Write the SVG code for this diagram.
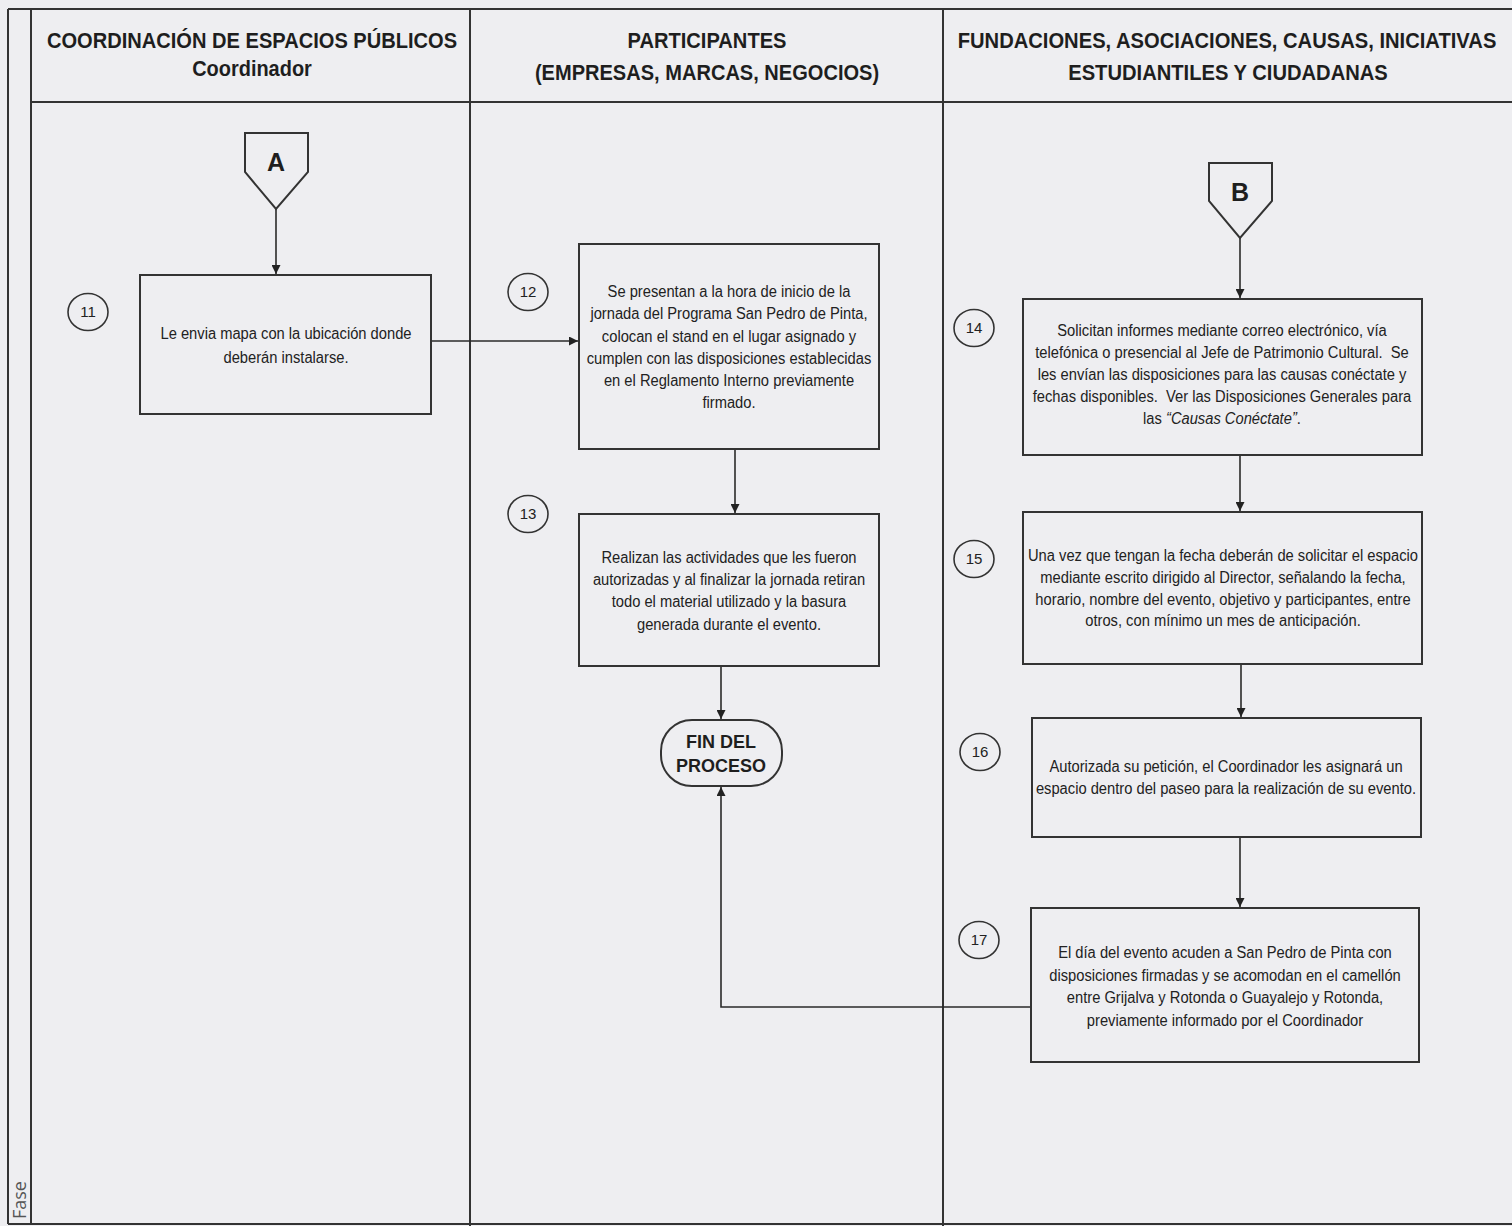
<svg xmlns="http://www.w3.org/2000/svg" width="1512" height="1226" viewBox="0 0 1512 1226">
<style>
.frame{stroke:#333;stroke-width:2;fill:none}
.box{fill:none;stroke:#333;stroke-width:2}
.conn{fill:none;stroke:#2a2a2a;stroke-width:1.6}
.hd{font-family:"Liberation Sans",Arial,sans-serif;font-weight:bold;font-size:22px;fill:#1e1e1e;text-anchor:middle}
.tx{font-family:"Liberation Sans",Arial,sans-serif;font-size:16px;fill:#222;text-anchor:middle}
.num{font-family:"Liberation Sans",Arial,sans-serif;font-size:15px;fill:#222;text-anchor:middle}
.big{font-family:"Liberation Sans",Arial,sans-serif;font-weight:bold;fill:#1e1e1e;text-anchor:middle}
.circ{fill:none;stroke:#333;stroke-width:1.6}
</style>
<defs>
<marker id="ah" viewBox="0 0 10 10" refX="10" refY="5" markerWidth="9" markerHeight="9" markerUnits="userSpaceOnUse" orient="auto">
<path d="M0,0 L10,5 L0,10 z" fill="#222"/>
</marker>
</defs>
<rect x="0" y="0" width="1512" height="1226" fill="#eeeef1"/>
<g id="frame">
<line class="frame" x1="8" y1="9" x2="1512" y2="9"/>
<line class="frame" x1="8" y1="9" x2="8" y2="1224"/>
<line class="frame" x1="31" y1="9" x2="31" y2="1224"/>
<line class="frame" x1="31" y1="102" x2="1512" y2="102"/>
<line class="frame" x1="470" y1="9" x2="470" y2="1226"/>
<line class="frame" x1="943" y1="9" x2="943" y2="1226"/>
<line class="frame" x1="8" y1="1224" x2="1512" y2="1224"/>
<text x="0" y="0" transform="translate(26,1219) rotate(-90)" font-family="'Open Sans',sans-serif" font-size="18" fill="#555">Fase</text>
</g>
<g id="headers">
<text class="hd" transform="translate(252,48) scale(0.86,1)" x="0" y="0" textLength="477" lengthAdjust="spacingAndGlyphs">COORDINACIÓN DE ESPACIOS PÚBLICOS</text>
<text class="hd" transform="translate(252,76) scale(0.9,1)" x="0" y="0" textLength="133" lengthAdjust="spacingAndGlyphs">Coordinador</text>
<text class="hd" transform="translate(707,48) scale(0.85,1)" x="0" y="0" textLength="187" lengthAdjust="spacingAndGlyphs">PARTICIPANTES</text>
<text class="hd" transform="translate(707,80) scale(0.85,1)" x="0" y="0" textLength="405" lengthAdjust="spacingAndGlyphs">(EMPRESAS, MARCAS, NEGOCIOS)</text>
<text class="hd" transform="translate(1227,48) scale(0.83,1)" x="0" y="0" textLength="649" lengthAdjust="spacingAndGlyphs">FUNDACIONES, ASOCIACIONES, CAUSAS, INICIATIVAS</text>
<text class="hd" transform="translate(1228,80) scale(0.85,1)" x="0" y="0" textLength="376" lengthAdjust="spacingAndGlyphs">ESTUDIANTILES Y CIUDADANAS</text>
</g>
<g id="connectors">
<path class="conn" d="M276,209 V274" marker-end="url(#ah)"/>
<path class="conn" d="M431,341 H578" marker-end="url(#ah)"/>
<path class="conn" d="M735,449 V513" marker-end="url(#ah)"/>
<path class="conn" d="M721,666 V719" marker-end="url(#ah)"/>
<path class="conn" d="M1031,1007 H721 V787" marker-end="url(#ah)"/>
<path class="conn" d="M1240,238 V298" marker-end="url(#ah)"/>
<path class="conn" d="M1240,455 V511" marker-end="url(#ah)"/>
<path class="conn" d="M1241,664 V717" marker-end="url(#ah)"/>
<path class="conn" d="M1240,837 V907" marker-end="url(#ah)"/>
</g>
<g id="conA">
<path class="box" d="M245,133 H308 V172 L276,209 L245,172 Z"/>
<text class="big" x="276" y="171" font-size="25">A</text>
</g>
<g id="conB">
<path class="box" d="M1209,163 H1272 V201 L1240,238 L1209,201 Z"/>
<text class="big" x="1240" y="201" font-size="25">B</text>
</g>
<g id="n11">
<ellipse class="circ" cx="88" cy="312" rx="20" ry="18.5"/>
<text class="num" x="88" y="317">11</text>
<rect class="box" x="140" y="275" width="291" height="139"/>
<g transform="matrix(0.92,0,0,1,22.88,0)">
<text class="tx" x="286" y="339">Le envia mapa con la ubicación donde</text>
<text class="tx" x="286" y="363">deberán instalarse.</text>
</g>
</g>
<g id="n12">
<ellipse class="circ" cx="528" cy="292" rx="20" ry="18.5"/>
<text class="num" x="528" y="297">12</text>
<rect class="box" x="579" y="244" width="300" height="205"/>
<g transform="matrix(0.92,0,0,1,58.32,0)">
<text class="tx" x="729" y="297">Se presentan a la hora de inicio de la</text>
<text class="tx" x="729" y="319">jornada del Programa San Pedro de Pinta,</text>
<text class="tx" x="729" y="342">colocan el stand en el lugar asignado y</text>
<text class="tx" x="729" y="364">cumplen con las disposiciones establecidas</text>
<text class="tx" x="729" y="386">en el Reglamento Interno previamente</text>
<text class="tx" x="729" y="408">firmado.</text>
</g>
</g>
<g id="n13">
<ellipse class="circ" cx="528" cy="514" rx="20" ry="18.5"/>
<text class="num" x="528" y="519">13</text>
<rect class="box" x="579" y="514" width="300" height="152"/>
<g transform="matrix(0.92,0,0,1,58.32,0)">
<text class="tx" x="729" y="563">Realizan las actividades que les fueron</text>
<text class="tx" x="729" y="585">autorizadas y al finalizar la jornada retiran</text>
<text class="tx" x="729" y="607">todo el material utilizado y la basura</text>
<text class="tx" x="729" y="630">generada durante el evento.</text>
</g>
</g>
<g id="fin">
<rect class="box" x="661" y="720" width="121" height="66" rx="31" ry="31"/>
<text class="big" x="721" y="748" font-size="18">FIN DEL</text>
<text class="big" x="721" y="772" font-size="18">PROCESO</text>
</g>
<g id="n14">
<ellipse class="circ" cx="974" cy="328" rx="20" ry="18.5"/>
<text class="num" x="974" y="333">14</text>
<rect class="box" x="1023" y="299" width="399" height="156"/>
<g transform="matrix(0.92,0,0,1,97.76,0)">
<text class="tx" x="1222" y="336">Solicitan informes mediante correo electrónico, vía</text>
<text class="tx" x="1222" y="358">telefónica o presencial al Jefe de Patrimonio Cultural.&#160; Se</text>
<text class="tx" x="1222" y="380">les envían las disposiciones para las causas conéctate y</text>
<text class="tx" x="1222" y="402">fechas disponibles.&#160; Ver las Disposiciones Generales para</text>
<text class="tx" x="1222" y="424">las <tspan font-style="italic">“Causas Conéctate”</tspan>.</text>
</g>
</g>
<g id="n15">
<ellipse class="circ" cx="974" cy="559" rx="20" ry="18.5"/>
<text class="num" x="974" y="564">15</text>
<rect class="box" x="1023" y="512" width="399" height="152"/>
<g transform="matrix(0.92,0,0,1,97.84,0)">
<text class="tx" x="1223" y="561">Una vez que tengan la fecha deberán de solicitar el espacio</text>
<text class="tx" x="1223" y="583">mediante escrito dirigido al Director, señalando la fecha,</text>
<text class="tx" x="1223" y="605">horario, nombre del evento, objetivo y participantes, entre</text>
<text class="tx" x="1223" y="626">otros, con mínimo un mes de anticipación.</text>
</g>
</g>
<g id="n16">
<ellipse class="circ" cx="980" cy="752" rx="20" ry="18.5"/>
<text class="num" x="980" y="757">16</text>
<rect class="box" x="1032" y="718" width="389" height="119"/>
<g transform="matrix(0.92,0,0,1,98.08,0)">
<text class="tx" x="1226" y="772">Autorizada su petición, el Coordinador les asignará un</text>
<text class="tx" x="1226" y="794">espacio dentro del paseo para la realización de su evento.</text>
</g>
</g>
<g id="n17">
<ellipse class="circ" cx="979" cy="940" rx="20" ry="18.5"/>
<text class="num" x="979" y="945">17</text>
<rect class="box" x="1031" y="908" width="388" height="154"/>
<g transform="matrix(0.92,0,0,1,98,0)">
<text class="tx" x="1225" y="958">El día del evento acuden a San Pedro de Pinta con</text>
<text class="tx" x="1225" y="981">disposiciones firmadas y se acomodan en el camellón</text>
<text class="tx" x="1225" y="1003">entre Grijalva y Rotonda o Guayalejo y Rotonda,</text>
<text class="tx" x="1225" y="1026">previamente informado por el Coordinador</text>
</g>
</g>
</svg>
